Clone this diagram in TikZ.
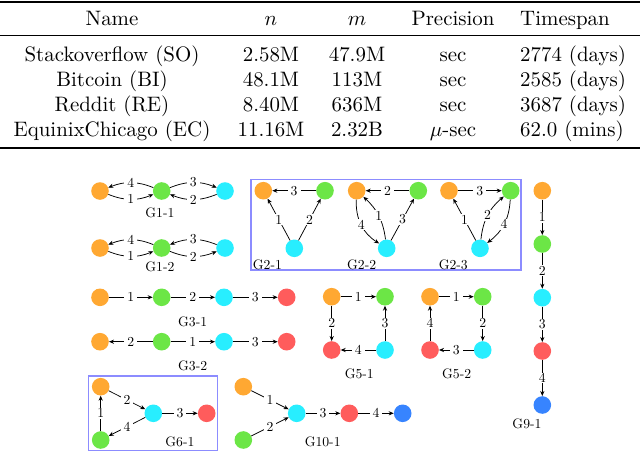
\documentclass[tikz,border=0pt]{standalone}
\usetikzlibrary{arrows.meta}
\definecolor{cor}{RGB}{255,168,50}
\definecolor{cgr}{RGB}{108,230,70}
\definecolor{ccy}{RGB}{40,238,255}
\definecolor{crd}{RGB}{255,92,92}
\definecolor{cbl}{RGB}{55,132,255}
\definecolor{cbox}{RGB}{140,140,255}
\newcommand\tx[1]{\scalebox{2.09}{#1}}
\newcommand\gl[1]{\scalebox{1.37}{#1}}
\begin{document}
\begin{tikzpicture}[x=1pt,y=-1pt,
  vx/.style={circle,inner sep=0pt,minimum size=17.6pt},
  vo/.style={vx,fill=cor},
  vg/.style={vx,fill=cgr},
  vc/.style={vx,fill=ccy},
  vr/.style={vx,fill=crd},
  vb/.style={vx,fill=cbl},
  arr/.style={-{Stealth[length=5pt,width=4.2pt]},line width=0.75pt},
  lab/.style={fill=white,inner xsep=3pt,inner ysep=0.8pt},
  gname/.style={inner sep=0pt},
  tb/.style={anchor=base,inner sep=0pt},
  tbl/.style={anchor=base west,inner sep=0pt},
  gbox/.style={draw=cbox,line width=1.3pt},
]
\useasboundingbox (0,0) rectangle (640,453);
% table rules
\draw[line width=1.7pt] (0,1.7) -- (640,1.7);
\draw[line width=1pt] (0,35.7) -- (640,35.7);
\draw[line width=1.7pt] (0,148.3) -- (640,148.3);
% header
\node[tb] (hN) at (112,25) {\tx{Name}};
\node[tb] (hn) at (271,25) {\tx{$n$}};
\node[tb] (hm) at (357,25) {\tx{$m$}};
\node[tb] (hP) at (453,25) {\tx{Precision}};
\node[tbl] (hT) at (520,25) {\tx{Timespan}};
% rows
\node[tb] (r1a) at (112,61.7) {\tx{Stackoverflow (SO)}};
\node[tb] (r1b) at (271,61.7) {\tx{2.58M}};
\node[tb] (r1c) at (357,61.7) {\tx{47.9M}};
\node[tb] (r1d) at (453,61.7) {\tx{sec}};
\node[tbl] (r1e) at (520,61.7) {\tx{2774 (days)}};
\node[tb] (r2a) at (112,86.7) {\tx{Bitcoin (BI)}};
\node[tb] (r2b) at (271,86.7) {\tx{48.1M}};
\node[tb] (r2c) at (357,86.7) {\tx{113M}};
\node[tb] (r2d) at (453,86.7) {\tx{sec}};
\node[tbl] (r2e) at (520,86.7) {\tx{2585 (days)}};
\node[tb] (r3a) at (112,111.7) {\tx{Reddit (RE)}};
\node[tb] (r3b) at (271,111.7) {\tx{8.40M}};
\node[tb] (r3c) at (357,111.7) {\tx{636M}};
\node[tb] (r3d) at (453,111.7) {\tx{sec}};
\node[tbl] (r3e) at (520,111.7) {\tx{3687 (days)}};
\node[tb] (r4a) at (112,136.7) {\tx{EquinixChicago (EC)}};
\node[tb] (r4b) at (271,136.7) {\tx{11.16M}};
\node[tb] (r4c) at (357,136.7) {\tx{2.32B}};
\node[tb] (r4d) at (453,136.7) {\tx{$\mu$-sec}};
\node[tbl] (r4e) at (520,136.7) {\tx{62.0 (mins)}};
% boxes
\draw[gbox] (251,179.3) rectangle (521,270);
\draw[gbox] (88.3,376) rectangle (217.7,450.7);
% G1-1
\node[vo] (a1) at (100,191) {};
\node[vg] (a2) at (161.7,191) {};
\node[vc] (a3) at (225,191) {};
\draw[arr] (a2) to[bend right=22] node[lab]{\gl{4}} (a1);
\draw[arr] (a1) to[bend right=22] node[lab]{\gl{1}} (a2);
\draw[arr] (a2) to[bend left=22] node[lab]{\gl{3}} (a3);
\draw[arr] (a3) to[bend left=22] node[lab]{\gl{2}} (a2);
\node[gname] (t11) at (160,213) {\gl{G1-1}};
% G1-2
\node[vo] (b1) at (100,248) {};
\node[vg] (b2) at (161.7,248) {};
\node[vc] (b3) at (225,248) {};
\draw[arr] (b2) to[bend right=22] node[lab]{\gl{4}} (b1);
\draw[arr] (b1) to[bend right=22] node[lab]{\gl{1}} (b2);
\draw[arr] (b3) to[bend right=22] node[lab]{\gl{3}} (b2);
\draw[arr] (b2) to[bend right=22] node[lab]{\gl{2}} (b3);
\node[gname] (t12) at (160,266.7) {\gl{G1-2}};
% G2-1
\node[vo] (c1) at (263.3,190.7) {};
\node[vg] (c2) at (325,190.7) {};
\node[vc] (c3) at (294.3,248.3) {};
\draw[arr] (c2) -- node[lab]{\gl{3}} (c1);
\draw[arr] (c3) -- node[lab]{\gl{1}} (c1);
\draw[arr] (c3) -- node[lab]{\gl{2}} (c2);
\node[gname] (t21) at (267.5,265) {\gl{G2-1}};
% G2-2
\node[vo] (d1) at (356.7,190.7) {};
\node[vg] (d2) at (418.3,190.7) {};
\node[vc] (d3) at (386.7,248.3) {};
\draw[arr] (d2) -- node[lab]{\gl{2}} (d1);
\draw[arr] (d1) to[bend right=30] node[lab]{\gl{4}} (d3);
\draw[arr] (d3) to[bend right=20] node[lab]{\gl{1}} (d1);
\draw[arr] (d3) -- node[lab]{\gl{3}} (d2);
\node[gname] (t22) at (361.7,265) {\gl{G2-2}};
% G2-3
\node[vo] (e1) at (449,190.7) {};
\node[vg] (e2) at (510.7,190.7) {};
\node[vc] (e3) at (480,248.3) {};
\draw[arr] (e1) -- node[lab]{\gl{3}} (e2);
\draw[arr] (e3) -- node[lab]{\gl{1}} (e1);
\draw[arr] (e3) to[bend left=22] node[lab]{\gl{2}} (e2);
\draw[arr] (e2) to[bend left=25] node[lab]{\gl{4}} (e3);
\node[gname] (t23) at (453.3,265) {\gl{G2-3}};
% G3-1
\node[vo] (f1) at (100,297.3) {};
\node[vg] (f2) at (161.7,297.3) {};
\node[vc] (f3) at (224,297.3) {};
\node[vr] (f4) at (286.7,297.3) {};
\draw[arr] (f1) -- node[lab]{\gl{1}} (f2);
\draw[arr] (f2) -- node[lab]{\gl{2}} (f3);
\draw[arr] (f3) -- node[lab]{\gl{3}} (f4);
\node[gname] (t31) at (192.7,321.7) {\gl{G3-1}};
% G3-2
\node[vo] (h1) at (100,341.7) {};
\node[vg] (h2) at (161.7,341.7) {};
\node[vc] (h3) at (224,341.7) {};
\node[vr] (h4) at (286.7,341.7) {};
\draw[arr] (h2) -- node[lab]{\gl{2}} (h1);
\draw[arr] (h2) -- node[lab]{\gl{1}} (h3);
\draw[arr] (h3) -- node[lab]{\gl{3}} (h4);
\node[gname] (t32) at (192.7,365.5) {\gl{G3-2}};
% G5-1
\node[vo] (i1) at (331.7,296.7) {};
\node[vg] (i2) at (385,296.7) {};
\node[vr] (i3) at (331.7,350) {};
\node[vc] (i4) at (385,350) {};
\draw[arr] (i1) -- node[lab]{\gl{1}} (i2);
\draw[arr] (i1) -- node[lab]{\gl{2}} (i3);
\draw[arr] (i4) -- node[lab]{\gl{3}} (i2);
\draw[arr] (i4) -- node[lab]{\gl{4}} (i3);
\node[gname] (t51) at (359.3,374) {\gl{G5-1}};
% G5-2
\node[vo] (j1) at (430,296.7) {};
\node[vg] (j2) at (482.7,296.7) {};
\node[vr] (j3) at (430,350) {};
\node[vc] (j4) at (482.7,350) {};
\draw[arr] (j1) -- node[lab]{\gl{1}} (j2);
\draw[arr] (j2) -- node[lab]{\gl{2}} (j4);
\draw[arr] (j4) -- node[lab]{\gl{3}} (j3);
\draw[arr] (j3) -- node[lab]{\gl{4}} (j1);
\node[gname] (t52) at (456.7,374) {\gl{G5-2}};
% G6-1
\node[vo] (k1) at (100.7,386.7) {};
\node[vc] (k2) at (153.3,413.3) {};
\node[vr] (k3) at (206.7,413.3) {};
\node[vg] (k4) at (100.7,440) {};
\draw[arr] (k1) -- node[lab]{\gl{2}} (k2);
\draw[arr] (k2) -- node[lab]{\gl{3}} (k3);
\draw[arr] (k2) -- node[lab]{\gl{4}} (k4);
\draw[arr] (k4) -- node[lab]{\gl{1}} (k1);
\node[gname] (t61) at (180,441.7) {\gl{G6-1}};
% G10-1
\node[vo] (l1) at (243.3,386.7) {};
\node[vg] (l2) at (243.3,440) {};
\node[vc] (l3) at (296.7,413.3) {};
\node[vr] (l4) at (349.3,413.3) {};
\node[vb] (l5) at (402.7,413.3) {};
\draw[arr] (l1) -- node[lab]{\gl{1}} (l3);
\draw[arr] (l2) -- node[lab]{\gl{2}} (l3);
\draw[arr] (l3) -- node[lab]{\gl{3}} (l4);
\draw[arr] (l4) -- node[lab]{\gl{4}} (l5);
\node[gname] (t101) at (322.7,441.7) {\gl{G10-1}};
% G9-1
\node[vo] (m1) at (542.3,190.7) {};
\node[vg] (m2) at (542.3,244) {};
\node[vc] (m3) at (542.3,297.7) {};
\node[vr] (m4) at (542.3,351) {};
\node[vb] (m5) at (542.3,405) {};
\draw[arr] (m1) -- node[lab]{\gl{1}} (m2);
\draw[arr] (m2) -- node[lab]{\gl{2}} (m3);
\draw[arr] (m3) -- node[lab]{\gl{3}} (m4);
\draw[arr] (m4) -- node[lab]{\gl{4}} (m5);
\node[gname] (t91) at (527,424) {\gl{G9-1}};
\end{tikzpicture}
\end{document}
